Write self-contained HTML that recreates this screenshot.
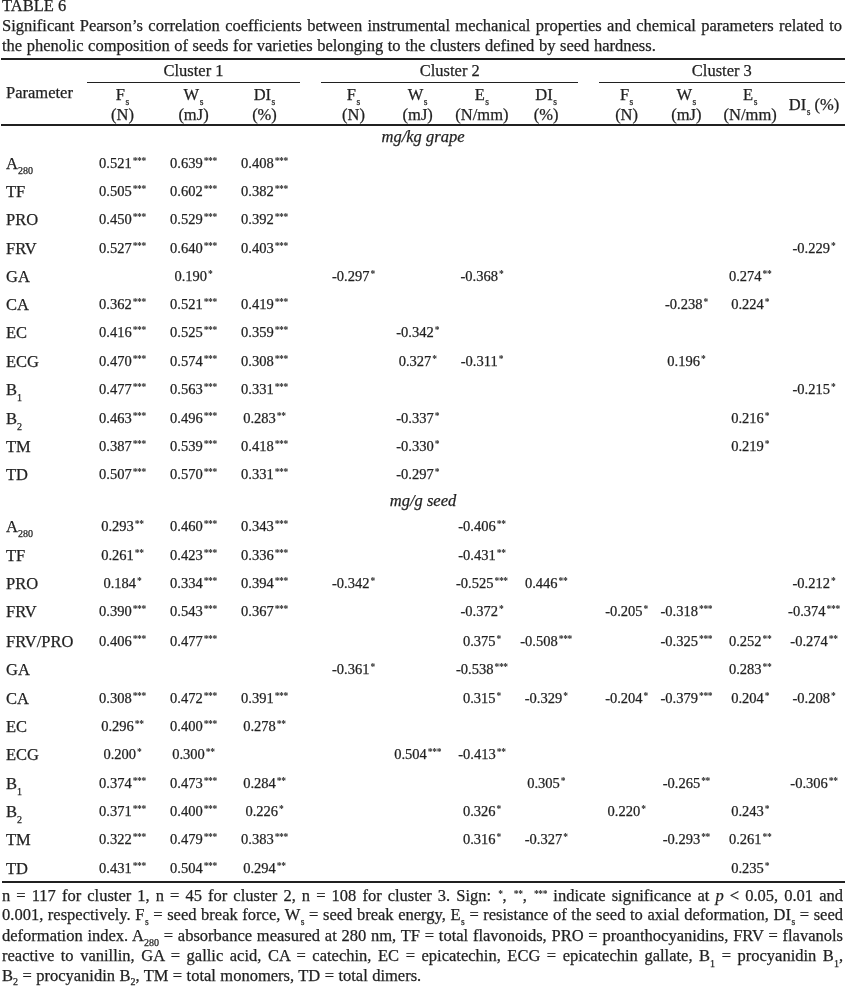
<!DOCTYPE html>
<html><head><meta charset="utf-8"><title>Table 6</title>
<style>
html,body{margin:0;padding:0;background:#fff;}
body{width:846px;height:986px;position:relative;overflow:hidden;font-family:'Liberation Serif', 'Times New Roman', serif;color:#231f20;}
.t{position:absolute;white-space:nowrap;}
.r{position:absolute;background:#231f20;}
.sb,.sp,.ss{position:relative;line-height:0;}
.ss{font-size:9.5px;margin-left:0.5px;}
.t{-webkit-text-stroke:0.25px #231f20;}
.as{position:relative;line-height:0;top:-4.5px;font-size:9.5px;font-weight:bold;letter-spacing:-0.3px;margin-left:1px;-webkit-text-stroke:0;}
body{filter:grayscale(1);}
</style></head><body>
<div class="t" style="left:2px;top:-2px;font-size:16.5px;line-height:16.5px;">TABLE 6</div>
<div class="t" style="left:2px;top:18px;font-size:16.5px;line-height:16.5px;width:840px;text-align:left;text-align:justify;text-align-last:justify;">Significant Pearson’s correlation coefficients between instrumental mechanical properties and chemical parameters related to</div>
<div class="t" style="left:2px;top:38px;font-size:16.5px;line-height:16.5px;word-spacing:0.45px;">the phenolic composition of seeds for varieties belonging to the clusters defined by seed hardness.</div>
<div class="r" style="left:1px;top:58px;width:844px;height:2px"></div>
<div class="r" style="left:87px;top:82px;width:213px;height:1px"></div>
<div class="r" style="left:321px;top:82px;width:257px;height:1px"></div>
<div class="r" style="left:599px;top:82px;width:246px;height:1px"></div>
<div class="r" style="left:1px;top:124px;width:844px;height:2px"></div>
<div class="r" style="left:2px;top:881px;width:843px;height:2px"></div>
<div class="t" style="left:6px;top:85px;font-size:16.5px;line-height:16.5px;">Parameter</div>
<div class="t" style="left:87px;top:63px;font-size:16.5px;line-height:16.5px;width:213px;text-align:center;">Cluster 1</div>
<div class="t" style="left:321.3px;top:63px;font-size:16.5px;line-height:16.5px;width:257px;text-align:center;">Cluster 2</div>
<div class="t" style="left:598.7px;top:63px;font-size:16.5px;line-height:16.5px;width:246.3px;text-align:center;">Cluster 3</div>
<div class="t" style="left:87px;top:87px;font-size:16.5px;line-height:16.5px;width:71px;text-align:center;">F<span class="ss" style="top:5px">s</span></div>
<div class="t" style="left:87px;top:107px;font-size:16.5px;line-height:16.5px;width:71px;text-align:center;">(N)</div>
<div class="t" style="left:158px;top:87px;font-size:16.5px;line-height:16.5px;width:71px;text-align:center;">W<span class="ss" style="top:5px">s</span></div>
<div class="t" style="left:158px;top:107px;font-size:16.5px;line-height:16.5px;width:71px;text-align:center;">(mJ)</div>
<div class="t" style="left:229px;top:87px;font-size:16.5px;line-height:16.5px;width:71px;text-align:center;">DI<span class="ss" style="top:5px">s</span></div>
<div class="t" style="left:229px;top:107px;font-size:16.5px;line-height:16.5px;width:71px;text-align:center;">(%)</div>
<div class="t" style="left:321.3px;top:87px;font-size:16.5px;line-height:16.5px;width:64.25px;text-align:center;">F<span class="ss" style="top:5px">s</span></div>
<div class="t" style="left:321.3px;top:107px;font-size:16.5px;line-height:16.5px;width:64.25px;text-align:center;">(N)</div>
<div class="t" style="left:385.55px;top:87px;font-size:16.5px;line-height:16.5px;width:64.25px;text-align:center;">W<span class="ss" style="top:5px">s</span></div>
<div class="t" style="left:385.55px;top:107px;font-size:16.5px;line-height:16.5px;width:64.25px;text-align:center;">(mJ)</div>
<div class="t" style="left:449.8px;top:87px;font-size:16.5px;line-height:16.5px;width:64.25px;text-align:center;">E<span class="ss" style="top:5px">s</span></div>
<div class="t" style="left:449.8px;top:107px;font-size:16.5px;line-height:16.5px;width:64.25px;text-align:center;">(N/mm)</div>
<div class="t" style="left:514.05px;top:87px;font-size:16.5px;line-height:16.5px;width:64.25px;text-align:center;">DI<span class="ss" style="top:5px">s</span></div>
<div class="t" style="left:514.05px;top:107px;font-size:16.5px;line-height:16.5px;width:64.25px;text-align:center;">(%)</div>
<div class="t" style="left:598.7px;top:87px;font-size:16.5px;line-height:16.5px;width:55.8px;text-align:center;">F<span class="ss" style="top:5px">s</span></div>
<div class="t" style="left:598.7px;top:107px;font-size:16.5px;line-height:16.5px;width:55.8px;text-align:center;">(N)</div>
<div class="t" style="left:654.5px;top:87px;font-size:16.5px;line-height:16.5px;width:63.8px;text-align:center;">W<span class="ss" style="top:5px">s</span></div>
<div class="t" style="left:654.5px;top:107px;font-size:16.5px;line-height:16.5px;width:63.8px;text-align:center;">(mJ)</div>
<div class="t" style="left:718.3px;top:87px;font-size:16.5px;line-height:16.5px;width:63.8px;text-align:center;">E<span class="ss" style="top:5px">s</span></div>
<div class="t" style="left:718.3px;top:107px;font-size:16.5px;line-height:16.5px;width:63.8px;text-align:center;">(N/mm)</div>
<div class="t" style="left:782.1px;top:97px;font-size:16.5px;line-height:16.5px;width:63.8px;text-align:center;">DI<span class="ss" style="top:5px">s</span> (%)</div>
<div class="t" style="left:0px;top:129px;font-size:16.5px;line-height:16.5px;width:846px;text-align:center;font-style:italic;">mg/kg grape</div>
<div class="t" style="left:0px;top:493px;font-size:16.5px;line-height:16.5px;width:846px;text-align:center;font-style:italic;">mg/g seed</div>
<div class="t" style="left:6px;top:156px;font-size:16.5px;line-height:16.5px;">A<span class="sb" style="font-size:10px;top:5px">280</span></div>
<div class="t" style="left:87px;top:156px;font-size:14.5px;line-height:14.5px;width:71px;text-align:center;">0.521<span class="as">***</span></div>
<div class="t" style="left:158px;top:156px;font-size:14.5px;line-height:14.5px;width:71px;text-align:center;">0.639<span class="as">***</span></div>
<div class="t" style="left:229px;top:156px;font-size:14.5px;line-height:14.5px;width:71px;text-align:center;">0.408<span class="as">***</span></div>
<div class="t" style="left:6px;top:184px;font-size:16.5px;line-height:16.5px;">TF</div>
<div class="t" style="left:87px;top:184px;font-size:14.5px;line-height:14.5px;width:71px;text-align:center;">0.505<span class="as">***</span></div>
<div class="t" style="left:158px;top:184px;font-size:14.5px;line-height:14.5px;width:71px;text-align:center;">0.602<span class="as">***</span></div>
<div class="t" style="left:229px;top:184px;font-size:14.5px;line-height:14.5px;width:71px;text-align:center;">0.382<span class="as">***</span></div>
<div class="t" style="left:6px;top:212px;font-size:16.5px;line-height:16.5px;">PRO</div>
<div class="t" style="left:87px;top:212px;font-size:14.5px;line-height:14.5px;width:71px;text-align:center;">0.450<span class="as">***</span></div>
<div class="t" style="left:158px;top:212px;font-size:14.5px;line-height:14.5px;width:71px;text-align:center;">0.529<span class="as">***</span></div>
<div class="t" style="left:229px;top:212px;font-size:14.5px;line-height:14.5px;width:71px;text-align:center;">0.392<span class="as">***</span></div>
<div class="t" style="left:6px;top:241px;font-size:16.5px;line-height:16.5px;">FRV</div>
<div class="t" style="left:87px;top:241px;font-size:14.5px;line-height:14.5px;width:71px;text-align:center;">0.527<span class="as">***</span></div>
<div class="t" style="left:158px;top:241px;font-size:14.5px;line-height:14.5px;width:71px;text-align:center;">0.640<span class="as">***</span></div>
<div class="t" style="left:229px;top:241px;font-size:14.5px;line-height:14.5px;width:71px;text-align:center;">0.403<span class="as">***</span></div>
<div class="t" style="left:782.1px;top:241px;font-size:14.5px;line-height:14.5px;width:63.8px;text-align:center;">-0.229<span class="as">*</span></div>
<div class="t" style="left:6px;top:269px;font-size:16.5px;line-height:16.5px;">GA</div>
<div class="t" style="left:158px;top:269px;font-size:14.5px;line-height:14.5px;width:71px;text-align:center;">0.190<span class="as">*</span></div>
<div class="t" style="left:321.3px;top:269px;font-size:14.5px;line-height:14.5px;width:64.25px;text-align:center;">-0.297<span class="as">*</span></div>
<div class="t" style="left:449.8px;top:269px;font-size:14.5px;line-height:14.5px;width:64.25px;text-align:center;">-0.368<span class="as">*</span></div>
<div class="t" style="left:718.3px;top:269px;font-size:14.5px;line-height:14.5px;width:63.8px;text-align:center;">0.274<span class="as">**</span></div>
<div class="t" style="left:6px;top:297px;font-size:16.5px;line-height:16.5px;">CA</div>
<div class="t" style="left:87px;top:297px;font-size:14.5px;line-height:14.5px;width:71px;text-align:center;">0.362<span class="as">***</span></div>
<div class="t" style="left:158px;top:297px;font-size:14.5px;line-height:14.5px;width:71px;text-align:center;">0.521<span class="as">***</span></div>
<div class="t" style="left:229px;top:297px;font-size:14.5px;line-height:14.5px;width:71px;text-align:center;">0.419<span class="as">***</span></div>
<div class="t" style="left:654.5px;top:297px;font-size:14.5px;line-height:14.5px;width:63.8px;text-align:center;">-0.238<span class="as">*</span></div>
<div class="t" style="left:718.3px;top:297px;font-size:14.5px;line-height:14.5px;width:63.8px;text-align:center;">0.224<span class="as">*</span></div>
<div class="t" style="left:6px;top:325px;font-size:16.5px;line-height:16.5px;">EC</div>
<div class="t" style="left:87px;top:325px;font-size:14.5px;line-height:14.5px;width:71px;text-align:center;">0.416<span class="as">***</span></div>
<div class="t" style="left:158px;top:325px;font-size:14.5px;line-height:14.5px;width:71px;text-align:center;">0.525<span class="as">***</span></div>
<div class="t" style="left:229px;top:325px;font-size:14.5px;line-height:14.5px;width:71px;text-align:center;">0.359<span class="as">***</span></div>
<div class="t" style="left:385.55px;top:325px;font-size:14.5px;line-height:14.5px;width:64.25px;text-align:center;">-0.342<span class="as">*</span></div>
<div class="t" style="left:6px;top:354px;font-size:16.5px;line-height:16.5px;">ECG</div>
<div class="t" style="left:87px;top:354px;font-size:14.5px;line-height:14.5px;width:71px;text-align:center;">0.470<span class="as">***</span></div>
<div class="t" style="left:158px;top:354px;font-size:14.5px;line-height:14.5px;width:71px;text-align:center;">0.574<span class="as">***</span></div>
<div class="t" style="left:229px;top:354px;font-size:14.5px;line-height:14.5px;width:71px;text-align:center;">0.308<span class="as">***</span></div>
<div class="t" style="left:385.55px;top:354px;font-size:14.5px;line-height:14.5px;width:64.25px;text-align:center;">0.327<span class="as">*</span></div>
<div class="t" style="left:449.8px;top:354px;font-size:14.5px;line-height:14.5px;width:64.25px;text-align:center;">-0.311<span class="as">*</span></div>
<div class="t" style="left:654.5px;top:354px;font-size:14.5px;line-height:14.5px;width:63.8px;text-align:center;">0.196<span class="as">*</span></div>
<div class="t" style="left:6px;top:382px;font-size:16.5px;line-height:16.5px;">B<span class="sb" style="font-size:10px;top:6px">1</span></div>
<div class="t" style="left:87px;top:382px;font-size:14.5px;line-height:14.5px;width:71px;text-align:center;">0.477<span class="as">***</span></div>
<div class="t" style="left:158px;top:382px;font-size:14.5px;line-height:14.5px;width:71px;text-align:center;">0.563<span class="as">***</span></div>
<div class="t" style="left:229px;top:382px;font-size:14.5px;line-height:14.5px;width:71px;text-align:center;">0.331<span class="as">***</span></div>
<div class="t" style="left:782.1px;top:382px;font-size:14.5px;line-height:14.5px;width:63.8px;text-align:center;">-0.215<span class="as">*</span></div>
<div class="t" style="left:6px;top:411px;font-size:16.5px;line-height:16.5px;">B<span class="sb" style="font-size:10px;top:6px">2</span></div>
<div class="t" style="left:87px;top:411px;font-size:14.5px;line-height:14.5px;width:71px;text-align:center;">0.463<span class="as">***</span></div>
<div class="t" style="left:158px;top:411px;font-size:14.5px;line-height:14.5px;width:71px;text-align:center;">0.496<span class="as">***</span></div>
<div class="t" style="left:229px;top:411px;font-size:14.5px;line-height:14.5px;width:71px;text-align:center;">0.283<span class="as">**</span></div>
<div class="t" style="left:385.55px;top:411px;font-size:14.5px;line-height:14.5px;width:64.25px;text-align:center;">-0.337<span class="as">*</span></div>
<div class="t" style="left:718.3px;top:411px;font-size:14.5px;line-height:14.5px;width:63.8px;text-align:center;">0.216<span class="as">*</span></div>
<div class="t" style="left:6px;top:439px;font-size:16.5px;line-height:16.5px;">TM</div>
<div class="t" style="left:87px;top:439px;font-size:14.5px;line-height:14.5px;width:71px;text-align:center;">0.387<span class="as">***</span></div>
<div class="t" style="left:158px;top:439px;font-size:14.5px;line-height:14.5px;width:71px;text-align:center;">0.539<span class="as">***</span></div>
<div class="t" style="left:229px;top:439px;font-size:14.5px;line-height:14.5px;width:71px;text-align:center;">0.418<span class="as">***</span></div>
<div class="t" style="left:385.55px;top:439px;font-size:14.5px;line-height:14.5px;width:64.25px;text-align:center;">-0.330<span class="as">*</span></div>
<div class="t" style="left:718.3px;top:439px;font-size:14.5px;line-height:14.5px;width:63.8px;text-align:center;">0.219<span class="as">*</span></div>
<div class="t" style="left:6px;top:467px;font-size:16.5px;line-height:16.5px;">TD</div>
<div class="t" style="left:87px;top:467px;font-size:14.5px;line-height:14.5px;width:71px;text-align:center;">0.507<span class="as">***</span></div>
<div class="t" style="left:158px;top:467px;font-size:14.5px;line-height:14.5px;width:71px;text-align:center;">0.570<span class="as">***</span></div>
<div class="t" style="left:229px;top:467px;font-size:14.5px;line-height:14.5px;width:71px;text-align:center;">0.331<span class="as">***</span></div>
<div class="t" style="left:385.55px;top:467px;font-size:14.5px;line-height:14.5px;width:64.25px;text-align:center;">-0.297<span class="as">*</span></div>
<div class="t" style="left:6px;top:519px;font-size:16.5px;line-height:16.5px;">A<span class="sb" style="font-size:10px;top:5px">280</span></div>
<div class="t" style="left:87px;top:519px;font-size:14.5px;line-height:14.5px;width:71px;text-align:center;">0.293<span class="as">**</span></div>
<div class="t" style="left:158px;top:519px;font-size:14.5px;line-height:14.5px;width:71px;text-align:center;">0.460<span class="as">***</span></div>
<div class="t" style="left:229px;top:519px;font-size:14.5px;line-height:14.5px;width:71px;text-align:center;">0.343<span class="as">***</span></div>
<div class="t" style="left:449.8px;top:519px;font-size:14.5px;line-height:14.5px;width:64.25px;text-align:center;">-0.406<span class="as">**</span></div>
<div class="t" style="left:6px;top:548px;font-size:16.5px;line-height:16.5px;">TF</div>
<div class="t" style="left:87px;top:548px;font-size:14.5px;line-height:14.5px;width:71px;text-align:center;">0.261<span class="as">**</span></div>
<div class="t" style="left:158px;top:548px;font-size:14.5px;line-height:14.5px;width:71px;text-align:center;">0.423<span class="as">***</span></div>
<div class="t" style="left:229px;top:548px;font-size:14.5px;line-height:14.5px;width:71px;text-align:center;">0.336<span class="as">***</span></div>
<div class="t" style="left:449.8px;top:548px;font-size:14.5px;line-height:14.5px;width:64.25px;text-align:center;">-0.431<span class="as">**</span></div>
<div class="t" style="left:6px;top:576px;font-size:16.5px;line-height:16.5px;">PRO</div>
<div class="t" style="left:87px;top:576px;font-size:14.5px;line-height:14.5px;width:71px;text-align:center;">0.184<span class="as">*</span></div>
<div class="t" style="left:158px;top:576px;font-size:14.5px;line-height:14.5px;width:71px;text-align:center;">0.334<span class="as">***</span></div>
<div class="t" style="left:229px;top:576px;font-size:14.5px;line-height:14.5px;width:71px;text-align:center;">0.394<span class="as">***</span></div>
<div class="t" style="left:321.3px;top:576px;font-size:14.5px;line-height:14.5px;width:64.25px;text-align:center;">-0.342<span class="as">*</span></div>
<div class="t" style="left:449.8px;top:576px;font-size:14.5px;line-height:14.5px;width:64.25px;text-align:center;">-0.525<span class="as">***</span></div>
<div class="t" style="left:514.05px;top:576px;font-size:14.5px;line-height:14.5px;width:64.25px;text-align:center;">0.446<span class="as">**</span></div>
<div class="t" style="left:782.1px;top:576px;font-size:14.5px;line-height:14.5px;width:63.8px;text-align:center;">-0.212<span class="as">*</span></div>
<div class="t" style="left:6px;top:604px;font-size:16.5px;line-height:16.5px;">FRV</div>
<div class="t" style="left:87px;top:604px;font-size:14.5px;line-height:14.5px;width:71px;text-align:center;">0.390<span class="as">***</span></div>
<div class="t" style="left:158px;top:604px;font-size:14.5px;line-height:14.5px;width:71px;text-align:center;">0.543<span class="as">***</span></div>
<div class="t" style="left:229px;top:604px;font-size:14.5px;line-height:14.5px;width:71px;text-align:center;">0.367<span class="as">***</span></div>
<div class="t" style="left:449.8px;top:604px;font-size:14.5px;line-height:14.5px;width:64.25px;text-align:center;">-0.372<span class="as">*</span></div>
<div class="t" style="left:598.7px;top:604px;font-size:14.5px;line-height:14.5px;width:55.8px;text-align:center;">-0.205<span class="as">*</span></div>
<div class="t" style="left:654.5px;top:604px;font-size:14.5px;line-height:14.5px;width:63.8px;text-align:center;">-0.318<span class="as">***</span></div>
<div class="t" style="left:782.1px;top:604px;font-size:14.5px;line-height:14.5px;width:63.8px;text-align:center;">-0.374<span class="as">***</span></div>
<div class="t" style="left:6px;top:634px;font-size:16.5px;line-height:16.5px;">FRV/PRO</div>
<div class="t" style="left:87px;top:634px;font-size:14.5px;line-height:14.5px;width:71px;text-align:center;">0.406<span class="as">***</span></div>
<div class="t" style="left:158px;top:634px;font-size:14.5px;line-height:14.5px;width:71px;text-align:center;">0.477<span class="as">***</span></div>
<div class="t" style="left:449.8px;top:634px;font-size:14.5px;line-height:14.5px;width:64.25px;text-align:center;">0.375<span class="as">*</span></div>
<div class="t" style="left:514.05px;top:634px;font-size:14.5px;line-height:14.5px;width:64.25px;text-align:center;">-0.508<span class="as">***</span></div>
<div class="t" style="left:654.5px;top:634px;font-size:14.5px;line-height:14.5px;width:63.8px;text-align:center;">-0.325<span class="as">***</span></div>
<div class="t" style="left:718.3px;top:634px;font-size:14.5px;line-height:14.5px;width:63.8px;text-align:center;">0.252<span class="as">**</span></div>
<div class="t" style="left:782.1px;top:634px;font-size:14.5px;line-height:14.5px;width:63.8px;text-align:center;">-0.274<span class="as">**</span></div>
<div class="t" style="left:6px;top:662px;font-size:16.5px;line-height:16.5px;">GA</div>
<div class="t" style="left:321.3px;top:662px;font-size:14.5px;line-height:14.5px;width:64.25px;text-align:center;">-0.361<span class="as">*</span></div>
<div class="t" style="left:449.8px;top:662px;font-size:14.5px;line-height:14.5px;width:64.25px;text-align:center;">-0.538<span class="as">***</span></div>
<div class="t" style="left:718.3px;top:662px;font-size:14.5px;line-height:14.5px;width:63.8px;text-align:center;">0.283<span class="as">**</span></div>
<div class="t" style="left:6px;top:691px;font-size:16.5px;line-height:16.5px;">CA</div>
<div class="t" style="left:87px;top:691px;font-size:14.5px;line-height:14.5px;width:71px;text-align:center;">0.308<span class="as">***</span></div>
<div class="t" style="left:158px;top:691px;font-size:14.5px;line-height:14.5px;width:71px;text-align:center;">0.472<span class="as">***</span></div>
<div class="t" style="left:229px;top:691px;font-size:14.5px;line-height:14.5px;width:71px;text-align:center;">0.391<span class="as">***</span></div>
<div class="t" style="left:449.8px;top:691px;font-size:14.5px;line-height:14.5px;width:64.25px;text-align:center;">0.315<span class="as">*</span></div>
<div class="t" style="left:514.05px;top:691px;font-size:14.5px;line-height:14.5px;width:64.25px;text-align:center;">-0.329<span class="as">*</span></div>
<div class="t" style="left:598.7px;top:691px;font-size:14.5px;line-height:14.5px;width:55.8px;text-align:center;">-0.204<span class="as">*</span></div>
<div class="t" style="left:654.5px;top:691px;font-size:14.5px;line-height:14.5px;width:63.8px;text-align:center;">-0.379<span class="as">***</span></div>
<div class="t" style="left:718.3px;top:691px;font-size:14.5px;line-height:14.5px;width:63.8px;text-align:center;">0.204<span class="as">*</span></div>
<div class="t" style="left:782.1px;top:691px;font-size:14.5px;line-height:14.5px;width:63.8px;text-align:center;">-0.208<span class="as">*</span></div>
<div class="t" style="left:6px;top:719px;font-size:16.5px;line-height:16.5px;">EC</div>
<div class="t" style="left:87px;top:719px;font-size:14.5px;line-height:14.5px;width:71px;text-align:center;">0.296<span class="as">**</span></div>
<div class="t" style="left:158px;top:719px;font-size:14.5px;line-height:14.5px;width:71px;text-align:center;">0.400<span class="as">***</span></div>
<div class="t" style="left:229px;top:719px;font-size:14.5px;line-height:14.5px;width:71px;text-align:center;">0.278<span class="as">**</span></div>
<div class="t" style="left:6px;top:747px;font-size:16.5px;line-height:16.5px;">ECG</div>
<div class="t" style="left:87px;top:747px;font-size:14.5px;line-height:14.5px;width:71px;text-align:center;">0.200<span class="as">*</span></div>
<div class="t" style="left:158px;top:747px;font-size:14.5px;line-height:14.5px;width:71px;text-align:center;">0.300<span class="as">**</span></div>
<div class="t" style="left:385.55px;top:747px;font-size:14.5px;line-height:14.5px;width:64.25px;text-align:center;">0.504<span class="as">***</span></div>
<div class="t" style="left:449.8px;top:747px;font-size:14.5px;line-height:14.5px;width:64.25px;text-align:center;">-0.413<span class="as">**</span></div>
<div class="t" style="left:6px;top:776px;font-size:16.5px;line-height:16.5px;">B<span class="sb" style="font-size:10px;top:6px">1</span></div>
<div class="t" style="left:87px;top:776px;font-size:14.5px;line-height:14.5px;width:71px;text-align:center;">0.374<span class="as">***</span></div>
<div class="t" style="left:158px;top:776px;font-size:14.5px;line-height:14.5px;width:71px;text-align:center;">0.473<span class="as">***</span></div>
<div class="t" style="left:229px;top:776px;font-size:14.5px;line-height:14.5px;width:71px;text-align:center;">0.284<span class="as">**</span></div>
<div class="t" style="left:514.05px;top:776px;font-size:14.5px;line-height:14.5px;width:64.25px;text-align:center;">0.305<span class="as">*</span></div>
<div class="t" style="left:654.5px;top:776px;font-size:14.5px;line-height:14.5px;width:63.8px;text-align:center;">-0.265<span class="as">**</span></div>
<div class="t" style="left:782.1px;top:776px;font-size:14.5px;line-height:14.5px;width:63.8px;text-align:center;">-0.306<span class="as">**</span></div>
<div class="t" style="left:6px;top:804px;font-size:16.5px;line-height:16.5px;">B<span class="sb" style="font-size:10px;top:6px">2</span></div>
<div class="t" style="left:87px;top:804px;font-size:14.5px;line-height:14.5px;width:71px;text-align:center;">0.371<span class="as">***</span></div>
<div class="t" style="left:158px;top:804px;font-size:14.5px;line-height:14.5px;width:71px;text-align:center;">0.400<span class="as">***</span></div>
<div class="t" style="left:229px;top:804px;font-size:14.5px;line-height:14.5px;width:71px;text-align:center;">0.226<span class="as">*</span></div>
<div class="t" style="left:449.8px;top:804px;font-size:14.5px;line-height:14.5px;width:64.25px;text-align:center;">0.326<span class="as">*</span></div>
<div class="t" style="left:598.7px;top:804px;font-size:14.5px;line-height:14.5px;width:55.8px;text-align:center;">0.220<span class="as">*</span></div>
<div class="t" style="left:718.3px;top:804px;font-size:14.5px;line-height:14.5px;width:63.8px;text-align:center;">0.243<span class="as">*</span></div>
<div class="t" style="left:6px;top:832px;font-size:16.5px;line-height:16.5px;">TM</div>
<div class="t" style="left:87px;top:832px;font-size:14.5px;line-height:14.5px;width:71px;text-align:center;">0.322<span class="as">***</span></div>
<div class="t" style="left:158px;top:832px;font-size:14.5px;line-height:14.5px;width:71px;text-align:center;">0.479<span class="as">***</span></div>
<div class="t" style="left:229px;top:832px;font-size:14.5px;line-height:14.5px;width:71px;text-align:center;">0.383<span class="as">***</span></div>
<div class="t" style="left:449.8px;top:832px;font-size:14.5px;line-height:14.5px;width:64.25px;text-align:center;">0.316<span class="as">*</span></div>
<div class="t" style="left:514.05px;top:832px;font-size:14.5px;line-height:14.5px;width:64.25px;text-align:center;">-0.327<span class="as">*</span></div>
<div class="t" style="left:654.5px;top:832px;font-size:14.5px;line-height:14.5px;width:63.8px;text-align:center;">-0.293<span class="as">**</span></div>
<div class="t" style="left:718.3px;top:832px;font-size:14.5px;line-height:14.5px;width:63.8px;text-align:center;">0.261<span class="as">**</span></div>
<div class="t" style="left:6px;top:861px;font-size:16.5px;line-height:16.5px;">TD</div>
<div class="t" style="left:87px;top:861px;font-size:14.5px;line-height:14.5px;width:71px;text-align:center;">0.431<span class="as">***</span></div>
<div class="t" style="left:158px;top:861px;font-size:14.5px;line-height:14.5px;width:71px;text-align:center;">0.504<span class="as">***</span></div>
<div class="t" style="left:229px;top:861px;font-size:14.5px;line-height:14.5px;width:71px;text-align:center;">0.294<span class="as">**</span></div>
<div class="t" style="left:718.3px;top:861px;font-size:14.5px;line-height:14.5px;width:63.8px;text-align:center;">0.235<span class="as">*</span></div>
<div class="t" style="left:2px;top:888px;font-size:16.5px;line-height:16.5px;width:841px;text-align:left;text-align:justify;text-align-last:justify;">n = 117 for cluster 1, n = 45 for cluster 2, n = 108 for cluster 3. Sign: <span class="as">*</span>, <span class="as">**</span>, <span class="as">***</span> indicate significance at <i>p</i> &lt; 0.05, 0.01 and</div>
<div class="t" style="left:2px;top:907px;font-size:16.5px;line-height:16.5px;width:841px;text-align:left;text-align:justify;text-align-last:justify;">0.001, respectively. F<span class="ss" style="top:5px">s</span> = seed break force, W<span class="ss" style="top:5px">s</span> = seed break energy, E<span class="ss" style="top:5px">s</span> = resistance of the seed to axial deformation, DI<span class="ss" style="top:5px">s</span> = seed</div>
<div class="t" style="left:2px;top:928px;font-size:16.5px;line-height:16.5px;width:841px;text-align:left;text-align:justify;text-align-last:justify;">deformation index. A<span class="sb" style="font-size:10px;top:5px">280</span> = absorbance measured at 280 nm, TF = total flavonoids, PRO = proanthocyanidins, FRV = flavanols</div>
<div class="t" style="left:2px;top:948px;font-size:16.5px;line-height:16.5px;width:841px;text-align:left;text-align:justify;text-align-last:justify;">reactive to vanillin, GA = gallic acid, CA = catechin, EC = epicatechin, ECG = epicatechin gallate, B<span class="sb" style="font-size:10px;top:6px">1</span> = procyanidin B<span class="sb" style="font-size:10px;top:6px">1</span>,</div>
<div class="t" style="left:2px;top:968px;font-size:16.5px;line-height:16.5px;word-spacing:0.3px;">B<span class="sb" style="font-size:10px;top:4px">2</span> = procyanidin B<span class="sb" style="font-size:10px;top:4px">2</span>, TM = total monomers, TD = total dimers.</div>
</body></html>
